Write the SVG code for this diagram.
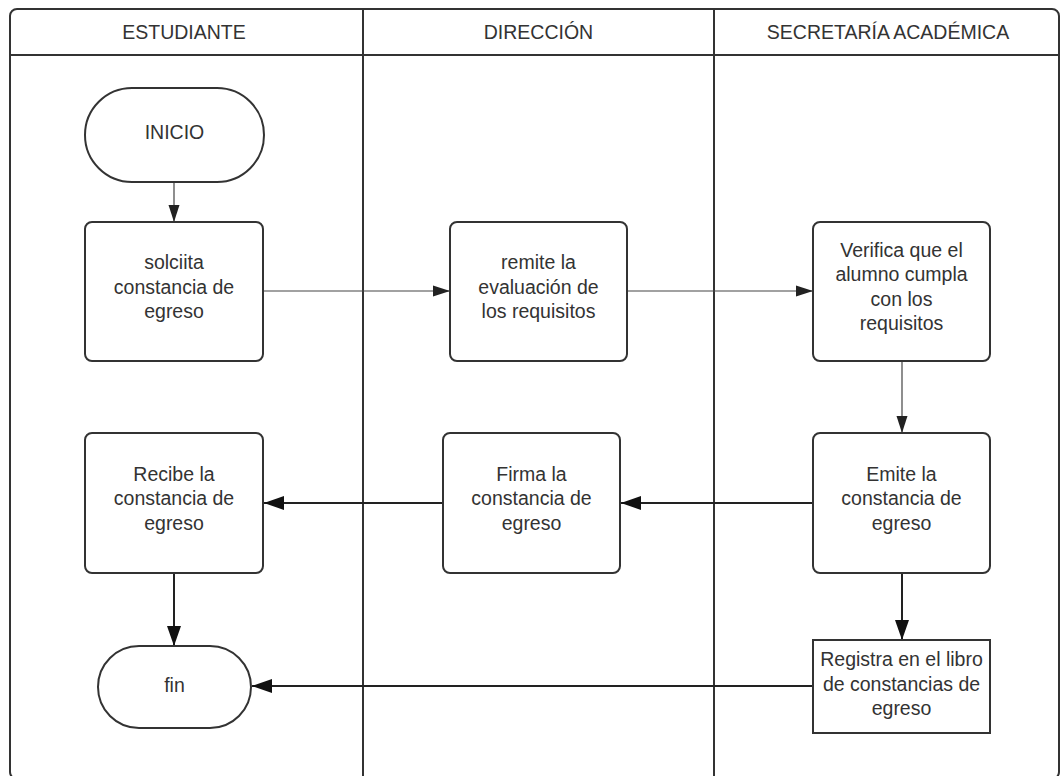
<svg xmlns="http://www.w3.org/2000/svg" width="1060" height="776" viewBox="0 0 1060 776">
<style>
  .frame { fill: none; stroke: #333; stroke-width: 2; }
  .box { fill: #fff; stroke: #333; stroke-width: 2; }
  .hdr { font-family: "Liberation Sans", Arial, sans-serif; font-size: 19.5px; fill: #333; text-anchor: middle; }
  .lbl { font-family: "Liberation Sans", Arial, sans-serif; font-size: 19.5px; fill: #333; text-anchor: middle; }
  .thin { fill: none; stroke: #444; stroke-width: 1.2; }
  .thick { fill: none; stroke: #222; stroke-width: 2; }
</style>
<defs>
  <marker id="aSmall" markerUnits="userSpaceOnUse" markerWidth="18" markerHeight="12" refX="17" refY="6" orient="auto">
    <path d="M0,0.5 L17,6 L0,11.5 Z" fill="#222"/>
  </marker>
  <marker id="aBig" markerUnits="userSpaceOnUse" markerWidth="21" markerHeight="16" refX="20" refY="8" orient="auto">
    <path d="M0,1 L20,8 L0,15 Z" fill="#111"/>
  </marker>
</defs>
<rect width="1060" height="776" fill="#fff"/>
<g id="lanes">
  <rect class="frame" x="10" y="9" width="1049" height="770" rx="7"/>
  <line class="frame" x1="10" y1="55" x2="1059" y2="55"/>
  <line class="frame" x1="363" y1="9" x2="363" y2="779"/>
  <line class="frame" x1="714" y1="9" x2="714" y2="779"/>
  <text class="hdr" x="184" y="39">ESTUDIANTE</text>
  <text class="hdr" x="538.5" y="39">DIRECCIÓN</text>
  <text class="hdr" x="888" y="39">SECRETARÍA ACADÉMICA</text>
</g>
<g id="connectors">
  <line class="thin" x1="174" y1="182" x2="174" y2="222" marker-end="url(#aSmall)"/>
  <line class="thin" x1="263" y1="291" x2="450" y2="291" marker-end="url(#aSmall)"/>
  <line class="thin" x1="627" y1="291" x2="813" y2="291" marker-end="url(#aSmall)"/>
  <line class="thin" x1="902" y1="361" x2="902" y2="433" marker-end="url(#aSmall)"/>
  <line class="thick" x1="813" y1="503" x2="621" y2="503" marker-end="url(#aBig)"/>
  <line class="thick" x1="443" y1="503" x2="264" y2="503" marker-end="url(#aBig)"/>
  <line class="thick" x1="174" y1="573" x2="174" y2="646" marker-end="url(#aBig)"/>
  <line class="thick" x1="902" y1="573" x2="902" y2="640" marker-end="url(#aBig)"/>
  <line class="thick" x1="813" y1="686" x2="252" y2="686" marker-end="url(#aBig)"/>
</g>
<g id="inicio">
  <rect class="box" x="85" y="88" width="179" height="94" rx="47"/>
  <text class="lbl" x="174.5" y="138.5">INICIO</text>
</g>
<g id="solicita">
  <rect class="box" x="85" y="222" width="178" height="139" rx="7"/>
  <text class="lbl" x="174" y="269">solciita</text>
  <text class="lbl" x="174" y="293.5">constancia de</text>
  <text class="lbl" x="174" y="318">egreso</text>
</g>
<g id="remite">
  <rect class="box" x="450" y="222" width="177" height="139" rx="7"/>
  <text class="lbl" x="538.5" y="269">remite la</text>
  <text class="lbl" x="538.5" y="293.5">evaluación de</text>
  <text class="lbl" x="538.5" y="318">los requisitos</text>
</g>
<g id="verifica">
  <rect class="box" x="813" y="222" width="177" height="139" rx="7"/>
  <text class="lbl" x="901.5" y="256.5">Verifica que el</text>
  <text class="lbl" x="901.5" y="281">alumno cumpla</text>
  <text class="lbl" x="901.5" y="305.5">con los</text>
  <text class="lbl" x="901.5" y="330">requisitos</text>
</g>
<g id="emite">
  <rect class="box" x="813" y="433" width="177" height="140" rx="7"/>
  <text class="lbl" x="901.5" y="480.5">Emite la</text>
  <text class="lbl" x="901.5" y="505">constancia de</text>
  <text class="lbl" x="901.5" y="529.5">egreso</text>
</g>
<g id="firma">
  <rect class="box" x="443" y="433" width="177" height="140" rx="7"/>
  <text class="lbl" x="531.5" y="480.5">Firma la</text>
  <text class="lbl" x="531.5" y="505">constancia de</text>
  <text class="lbl" x="531.5" y="529.5">egreso</text>
</g>
<g id="recibe">
  <rect class="box" x="85" y="433" width="178" height="140" rx="7"/>
  <text class="lbl" x="174" y="480.5">Recibe la</text>
  <text class="lbl" x="174" y="505">constancia de</text>
  <text class="lbl" x="174" y="529.5">egreso</text>
</g>
<g id="fin">
  <rect class="box" x="98" y="646" width="153" height="82" rx="41"/>
  <text class="lbl" x="174.5" y="691.5">fin</text>
</g>
<g id="registra">
  <rect class="box" x="813" y="640" width="177" height="93"/>
  <text class="lbl" x="901.5" y="666">Registra en el libro</text>
  <text class="lbl" x="901.5" y="690.5">de constancias de</text>
  <text class="lbl" x="901.5" y="715">egreso</text>
</g>
</svg>
